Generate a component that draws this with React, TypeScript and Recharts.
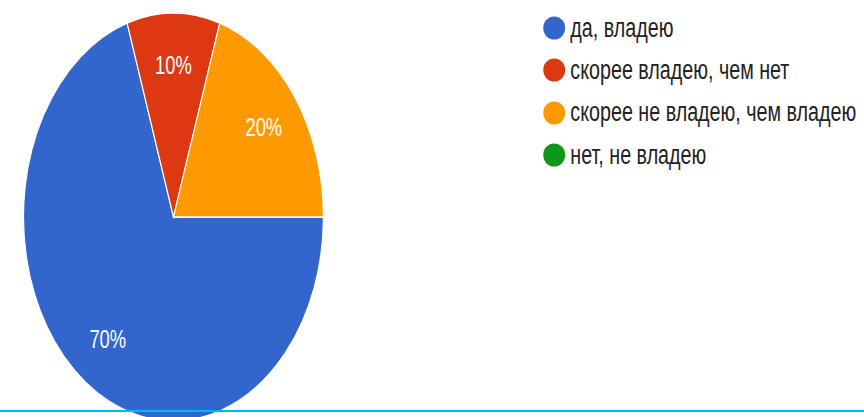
import { Legend, Pie, PieChart, Cell } from "recharts";

// answers to the survey question (share of respondents)
const categories = [
  "да, владею",
  "скорее владею, чем нет",
  "скорее не владею, чем владею",
  "нет, не владею",
];
const shares = [70, 10, 20, 0];
const colors = ["#3366cc", "#dc3912", "#ff9900", "#109618"];

const data = categories.map((name, i) => ({ name, value: shares[i] }));

// the source image is squeezed horizontally, so draw wide and scale down
const SQUEEZE = 0.735;
const W = 1176;
const H = 430;
const FONT = "'Liberation Sans', Arial, sans-serif";
const RAD = Math.PI / 180;

function renderLabel(props: any) {
  const { cx, cy, midAngle, outerRadius, percent, value } = props;
  if (!value) return null;
  const r = outerRadius * 0.745;
  const x = cx + r * Math.cos(-midAngle * RAD);
  const y = cy + r * Math.sin(-midAngle * RAD);
  return (
    <text
      x={x}
      y={y}
      fill="#ffffff"
      fontSize={25}
      fontFamily={FONT}
      textAnchor="middle"
      dominantBaseline="central"
    >
      {`${Math.round(percent * 100)}%`}
    </text>
  );
}

function LegendList() {
  return (
    <div style={{ position: "relative", width: 430 }}>
      {data.map((d, i) => (
        <div
          key={d.name}
          style={{
            display: "flex",
            alignItems: "center",
            height: 42.3,
            fontFamily: FONT,
            fontSize: 26.8,
            color: "#222222",
            whiteSpace: "nowrap",
          }}
        >
          <svg width={30} height={24} style={{ marginRight: 7, flex: "none" }}>
            <ellipse cx={15} cy={12} rx={15} ry={11.5} fill={colors[i]} />
          </svg>
          <span>{d.name}</span>
        </div>
      ))}
    </div>
  );
}

export default function App() {
  return (
    <div
      style={{
        position: "absolute",
        left: 0,
        top: 0,
        width: 864,
        height: 417,
        overflow: "hidden",
        background: "#ffffff",
      }}
    >
      <div
        style={{
          width: W,
          height: H,
          transform: `scaleX(${SQUEEZE})`,
          transformOrigin: "left top",
        }}
      >
        <PieChart width={W} height={H} margin={{ top: 0, right: 0, bottom: 0, left: 0 }}>
          <Pie
            data={data}
            dataKey="value"
            nameKey="name"
            cx={236}
            cy={217}
            outerRadius={204}
            startAngle={0}
            endAngle={-360}
            stroke="#ffffff"
            strokeWidth={1.5}
            label={renderLabel}
            labelLine={false}
            isAnimationActive={false}
          >
            {data.map((d, i) => (
              <Cell key={d.name} fill={colors[i]} />
            ))}
          </Pie>
          <Legend
            layout="vertical"
            align="center"
            verticalAlign="middle"
            content={<LegendList />}
            wrapperStyle={{ left: 739, top: 7, width: 430 }}
          />
        </PieChart>
      </div>
      <div
        style={{
          position: "absolute",
          left: 0,
          top: 410,
          width: 864,
          height: 2,
          background: "#00b4ff",
        }}
      />
    </div>
  );
}
